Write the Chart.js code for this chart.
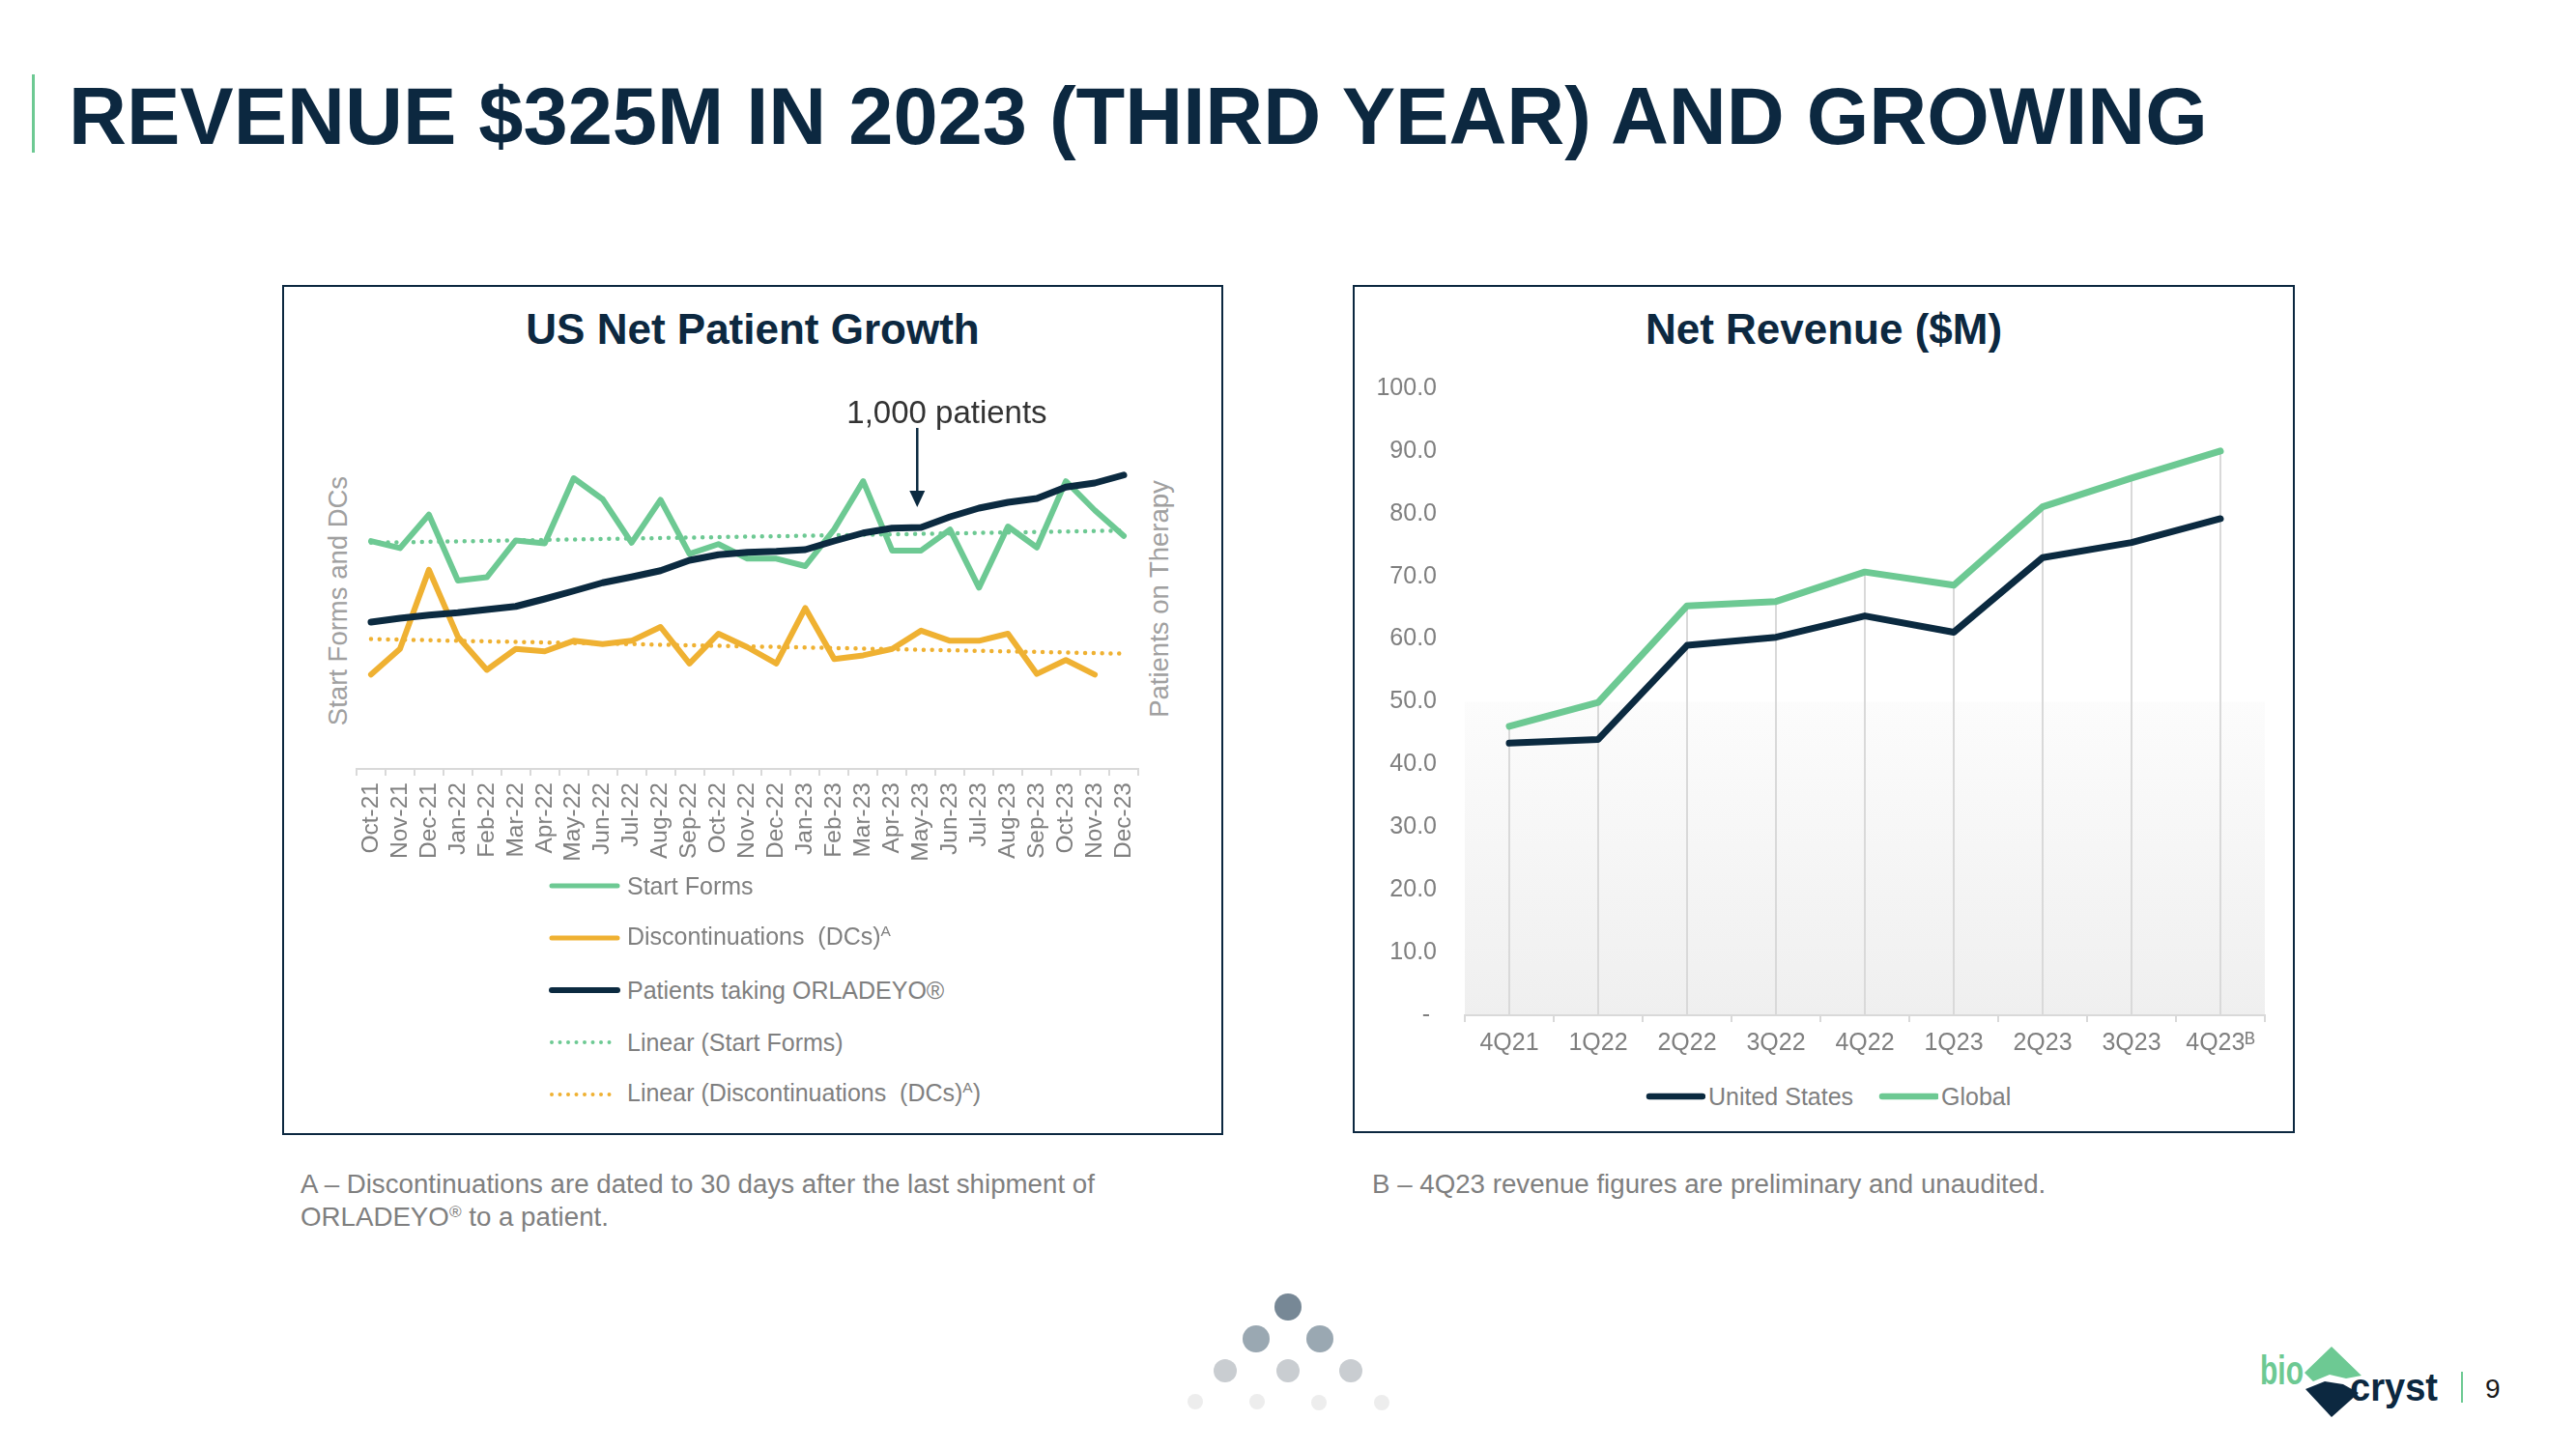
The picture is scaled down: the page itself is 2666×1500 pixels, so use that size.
<!DOCTYPE html>
<html><head><meta charset="utf-8">
<script src="https://cdn.jsdelivr.net/npm/chart.js@4.4.1/dist/chart.umd.min.js"></script>
<style>
html,body{margin:0;padding:0;background:#fff;}
body{width:2666px;height:1500px;position:relative;overflow:hidden;font-family:'Liberation Sans',Arial,sans-serif;}
.abs{position:absolute;}
#mainTitle{left:71px;top:79px;font-size:83px;line-height:83px;font-weight:bold;color:#0c2840;white-space:nowrap;}
#titleBar{left:33px;top:77px;width:3px;height:81px;background:#6dc993;}
.box{border:2px solid #0c2840;box-sizing:border-box;}
.ctitle{font-size:44px;line-height:60px;font-weight:bold;color:#0c2840;text-align:center;white-space:nowrap;}
.rot{transform:translate(-50%,-50%) rotate(-90deg);white-space:nowrap;font-size:27.5px;line-height:27px;color:#a0a0a0;}
.leg{display:flex;align-items:center;height:30px;white-space:nowrap;font-size:25px;line-height:30px;color:#7f7f7f;}
.leg svg{display:block;}
.sup{font-size:0.62em;position:relative;top:-0.55em;}
.note{font-size:27.7px;line-height:34px;color:#7f7f7f;white-space:nowrap;}
.dot{position:absolute;border-radius:50%;}
</style>
</head>
<body>
<div id="titleBar" class="abs"></div>
<div id="mainTitle" class="abs">REVENUE $325M IN 2023 (THIRD YEAR) AND GROWING</div>

<div class="abs box" style="left:292px;top:295px;width:974px;height:880px;"></div>
<div class="abs box" style="left:1400px;top:295px;width:975px;height:878px;"></div>

<div class="abs ctitle" style="left:292px;top:311px;width:974px;">US Net Patient Growth</div>
<div class="abs ctitle" style="left:1400px;top:311px;width:975px;">Net Revenue ($M)</div>

<div class="abs rot" style="left:349px;top:622px;">Start Forms and DCs</div>
<div class="abs rot" style="left:1199px;top:620px;">Patients on Therapy</div>

<canvas id="leftChart" class="abs" width="950" height="540" style="left:300px;top:400px;width:950px;height:540px;"></canvas>
<canvas id="rightChart" class="abs" width="960" height="720" style="left:1410px;top:380px;width:960px;height:720px;"></canvas>

<!-- left legend -->
<div class="abs leg" style="left:568px;top:902px;"><svg width="74" height="10"><line x1="3" y1="5" x2="71" y2="5" stroke="#6dc993" stroke-width="5" stroke-linecap="round"/></svg><span style="margin-left:7px">Start Forms</span></div>
<div class="abs leg" style="left:568px;top:956px;"><svg width="74" height="10"><line x1="3" y1="5" x2="71" y2="5" stroke="#efb132" stroke-width="5" stroke-linecap="round"/></svg><span style="margin-left:7px">Discontinuations&nbsp; (DCs)<span class="sup">A</span></span></div>
<div class="abs leg" style="left:568px;top:1010px;"><svg width="74" height="10"><line x1="3" y1="5" x2="71" y2="5" stroke="#0b2a40" stroke-width="6" stroke-linecap="round"/></svg><span style="margin-left:7px">Patients taking ORLADEYO®</span></div>
<div class="abs leg" style="left:568px;top:1064px;"><svg width="74" height="10"><line x1="3" y1="5" x2="71" y2="5" stroke="#6dc993" stroke-width="4" stroke-linecap="round" stroke-dasharray="0 8.5"/></svg><span style="margin-left:7px">Linear (Start Forms)</span></div>
<div class="abs leg" style="left:568px;top:1118px;"><svg width="74" height="10"><line x1="3" y1="5" x2="71" y2="5" stroke="#efb132" stroke-width="4" stroke-linecap="round" stroke-dasharray="0 8.5"/></svg><span style="margin-left:7px">Linear (Discontinuations&nbsp; (DCs)<span class="sup">A</span>)</span></div>

<!-- right legend -->
<div class="abs leg" style="left:1703px;top:1120px;"><svg width="62" height="10"><line x1="4" y1="5" x2="59" y2="5" stroke="#0b2a40" stroke-width="6.5" stroke-linecap="round"/></svg><span style="margin-left:3px">United States</span></div>
<div class="abs leg" style="left:1944px;top:1120px;"><svg width="62" height="10"><line x1="4" y1="5" x2="60" y2="5" stroke="#6dc993" stroke-width="6.5" stroke-linecap="round"/></svg><span style="margin-left:3px">Global</span></div>

<!-- footnotes -->
<div class="abs note" style="left:311px;top:1209px;">A – Discontinuations are dated to 30 days after the last shipment of<br>ORLADEYO<span class="sup">®</span> to a patient.</div>
<div class="abs note" style="left:1420px;top:1209px;">B – 4Q23 revenue figures are preliminary and unaudited.</div>

<!-- decorative dots -->
<div class="dot" style="left:1319px;top:1339px;width:28px;height:28px;background:#778896;"></div>
<div class="dot" style="left:1286px;top:1372px;width:28px;height:28px;background:#9aa8b2;"></div>
<div class="dot" style="left:1352px;top:1372px;width:28px;height:28px;background:#9aa8b2;"></div>
<div class="dot" style="left:1256px;top:1407px;width:24px;height:24px;background:#c9cdd1;"></div>
<div class="dot" style="left:1321px;top:1407px;width:24px;height:24px;background:#c9cdd1;"></div>
<div class="dot" style="left:1386px;top:1407px;width:24px;height:24px;background:#c9cdd1;"></div>
<div class="dot" style="left:1229px;top:1443px;width:16px;height:16px;background:#ededed;"></div>
<div class="dot" style="left:1293px;top:1443px;width:16px;height:16px;background:#ededed;"></div>
<div class="dot" style="left:1357px;top:1444px;width:16px;height:16px;background:#ededed;"></div>
<div class="dot" style="left:1422px;top:1444px;width:16px;height:16px;background:#ededed;"></div>

<!-- logo -->
<svg class="abs" style="left:2330px;top:1385px;" width="300" height="90" viewBox="2330 1385 300 90">
  <polygon points="2413,1394 2444,1424 2428,1427 2411,1423 2394,1430 2385,1421" fill="#6dc993"/>
  <polygon points="2386,1438 2406,1430 2425,1433 2441,1442 2413,1467" fill="#0c2840"/>
  <text x="2339" y="1433" font-family="Liberation Sans, Arial, sans-serif" font-size="42" font-weight="bold" fill="#6dc993" textLength="45" lengthAdjust="spacingAndGlyphs">bio</text>
  <text x="2432" y="1450" font-family="Liberation Sans, Arial, sans-serif" font-size="40" font-weight="bold" fill="#0c2840" textLength="91" lengthAdjust="spacingAndGlyphs">cryst</text>
  <line x1="2548" y1="1420" x2="2548" y2="1452" stroke="#6dc993" stroke-width="2"/>
  <text x="2572" y="1447" font-family="Liberation Sans, Arial, sans-serif" font-size="28" fill="#1a1a1a">9</text>
</svg>

<script>
// ---------- Data: US Net Patient Growth ----------
const months = ['Oct-21','Nov-21','Dec-21','Jan-22','Feb-22','Mar-22','Apr-22','May-22','Jun-22','Jul-22','Aug-22','Sep-22','Oct-22','Nov-22','Dec-22','Jan-23','Feb-23','Mar-23','Apr-23','May-23','Jun-23','Jul-23','Aug-23','Sep-23','Oct-23','Nov-23','Dec-23'];
const startForms = [67.4,65.3,75.2,55.7,56.7,67.6,66.7,86.0,79.8,66.9,79.6,63.6,66.5,62.2,62.2,60.0,70.9,85.1,64.6,64.6,70.8,53.6,71.7,65.5,85.1,76.5,68.9];
const discontinuations = [27.9,35.5,58.9,39.1,29.3,35.5,34.8,37.9,36.9,37.9,42.0,31.2,40.0,36.0,31.2,47.6,32.5,33.6,35.5,40.9,37.9,37.9,40.0,28.1,32.2,27.9,null];
const patientsOnTherapy = [608,624,637,647,660,673,704,737,771,795,821,864,887,897,901,908,944,977,997,1000,1044,1080,1104,1120,1167,1184,1217];
const startFormsTrendEnds = [66.9, 70.5];
const discontinuationsTrendEnds = [38.4, 34.1];
const annotationMonth = 'May-23';
const annotationText = '1,000 patients';

// ---------- Data: Net Revenue ($M) ----------
const quarters = ['4Q21','1Q22','2Q22','3Q22','4Q22','1Q23','2Q23','3Q23','4Q23ᴮ'];
const usRevenue = [43.4,44.0,59.0,60.3,63.7,61.1,73.0,75.4,79.2];
const globalRevenue = [46.1,49.9,65.3,66.0,70.7,68.6,81.1,85.7,90.0];
const revenueTicks = [0,10,20,30,40,50,60,70,80,90,100];

// ---------- Styles ----------
const NAVY = '#0b2a40', GREEN = '#6dc993', GOLD = '#efb132', GREY = '#7f7f7f', AXIS = '#d9d9d9';
const FAMILY = "'Liberation Sans', Arial, 'DejaVu Sans', sans-serif";
Chart.defaults.font.family = FAMILY;

function trendData(ends, n) {
  return Array.from({length: n}, (_, i) => i === 0 ? ends[0] : (i === n - 1 ? ends[1] : null));
}

const annotationPlugin = {
  id: 'patientAnnotation',
  afterDatasetsDraw(chart) {
    const {ctx, scales} = chart;
    const idx = months.indexOf(annotationMonth);
    const px = scales.x.getPixelForValue(idx) - 4;
    const py = scales.yP.getPixelForValue(patientsOnTherapy[idx]);
    const tip = py - 21, start = py - 103;
    ctx.save();
    ctx.strokeStyle = NAVY; ctx.fillStyle = NAVY; ctx.lineWidth = 2.5;
    ctx.beginPath(); ctx.moveTo(px, start); ctx.lineTo(px, tip - 14); ctx.stroke();
    ctx.beginPath(); ctx.moveTo(px - 8, tip - 17); ctx.lineTo(px + 8, tip - 17); ctx.lineTo(px, tip); ctx.closePath(); ctx.fill();
    ctx.font = '33px ' + FAMILY; ctx.fillStyle = '#333333';
    ctx.textAlign = 'left'; ctx.textBaseline = 'alphabetic';
    ctx.fillText(annotationText, px - 73, start - 5);
    ctx.restore();
  }
};

new Chart(document.getElementById('leftChart'), {
  type: 'line',
  data: {
    labels: months,
    datasets: [
      {label: 'Patients taking ORLADEYO®', data: patientsOnTherapy, yAxisID: 'yP', borderColor: NAVY, borderWidth: 7, order: 0},
      {label: 'Discontinuations (DCs)', data: discontinuations, yAxisID: 'y', borderColor: GOLD, borderWidth: 6, order: 1},
      {label: 'Start Forms', data: startForms, yAxisID: 'y', borderColor: GREEN, borderWidth: 6, order: 2},
      {label: 'Linear (Start Forms)', data: trendData(startFormsTrendEnds, months.length), yAxisID: 'y', borderColor: GREEN, borderWidth: 4.5, borderDash: [0, 8.8], spanGaps: true, order: 3},
      {label: 'Linear (Discontinuations (DCs))', data: trendData(discontinuationsTrendEnds, months.length), yAxisID: 'y', borderColor: GOLD, borderWidth: 4.5, borderDash: [0, 8.8], spanGaps: true, order: 4}
    ].map(d => Object.assign({pointRadius: 0, pointHoverRadius: 0, tension: 0, borderJoinStyle: 'round', borderCapStyle: 'round', fill: false}, d))
  },
  options: {
    responsive: false, animation: false, events: [],
    layout: {padding: {left: 69, right: 72, top: 46, bottom: 0}},
    plugins: {legend: {display: false}, title: {display: false}, tooltip: {enabled: false}},
    scales: {
      x: {
        offset: true,
        grid: {display: true, offset: true, drawOnChartArea: false, drawTicks: true, tickLength: 7, color: AXIS, lineWidth: 2},
        border: {display: true, color: AXIS, width: 2},
        ticks: {autoSkip: false, minRotation: 90, maxRotation: 90, padding: 7, color: GREY, font: {size: 24.5}},
        afterFit: s => { s.height = 144; }
      },
      y: {display: false, min: 0, max: 100},
      yP: {display: false, position: 'right', min: 0, max: 1400}
    }
  },
  plugins: [annotationPlugin]
});

const revenuePlugin = {
  id: 'revenueDecor',
  beforeDraw(chart) {
    const {ctx, chartArea: {left, right, bottom}, scales: {y}} = chart;
    const top = y.getPixelForValue(50);
    const g = ctx.createLinearGradient(0, top, 0, bottom);
    g.addColorStop(0, '#fcfcfc'); g.addColorStop(1, '#efefef');
    ctx.save(); ctx.fillStyle = g; ctx.fillRect(left, top, right - left, bottom - top); ctx.restore();
  },
  beforeDatasetsDraw(chart) {
    const {ctx, chartArea: {bottom}, scales: {x, y}} = chart;
    ctx.save(); ctx.strokeStyle = AXIS; ctx.lineWidth = 2;
    quarters.forEach((q, i) => {
      const px = x.getPixelForValue(i);
      const hi = Math.max(usRevenue[i], globalRevenue[i]);
      ctx.beginPath(); ctx.moveTo(px, y.getPixelForValue(hi)); ctx.lineTo(px, bottom); ctx.stroke();
    });
    ctx.restore();
  }
};

new Chart(document.getElementById('rightChart'), {
  type: 'line',
  data: {
    labels: quarters,
    datasets: [
      {label: 'United States', data: usRevenue, borderColor: NAVY, order: 0},
      {label: 'Global', data: globalRevenue, borderColor: GREEN, order: 1}
    ].map(d => Object.assign({pointRadius: 0, pointHoverRadius: 0, borderWidth: 7, tension: 0, borderJoinStyle: 'round', borderCapStyle: 'round', fill: false}, d))
  },
  options: {
    responsive: false, animation: false, events: [],
    layout: {padding: {left: 0, right: 26, top: 22, bottom: 0}},
    plugins: {legend: {display: false}, title: {display: false}, tooltip: {enabled: false}},
    scales: {
      x: {
        offset: true,
        grid: {display: true, offset: true, drawOnChartArea: false, drawTicks: true, tickLength: 7, color: AXIS, lineWidth: 2},
        border: {display: true, color: AXIS, width: 2},
        ticks: {autoSkip: false, maxRotation: 0, padding: 7, color: GREY, font: {size: 25}},
        afterFit: s => { s.height = 49; }
      },
      y: {
        min: revenueTicks[0], max: revenueTicks[revenueTicks.length - 1],
        afterBuildTicks: s => { s.ticks = revenueTicks.map(v => ({value: v})); },
        grid: {display: true, drawOnChartArea: false, drawTicks: true, tickLength: 27, color: 'rgba(0,0,0,0)'},
        border: {display: false},
        ticks: {padding: 2, color: GREY, font: {size: 25}, callback: v => v === 0 ? '- ' : Number(v).toFixed(1)},
        afterFit: s => { s.width = 106; }
      }
    }
  },
  plugins: [revenuePlugin]
});
</script>
</body></html>
